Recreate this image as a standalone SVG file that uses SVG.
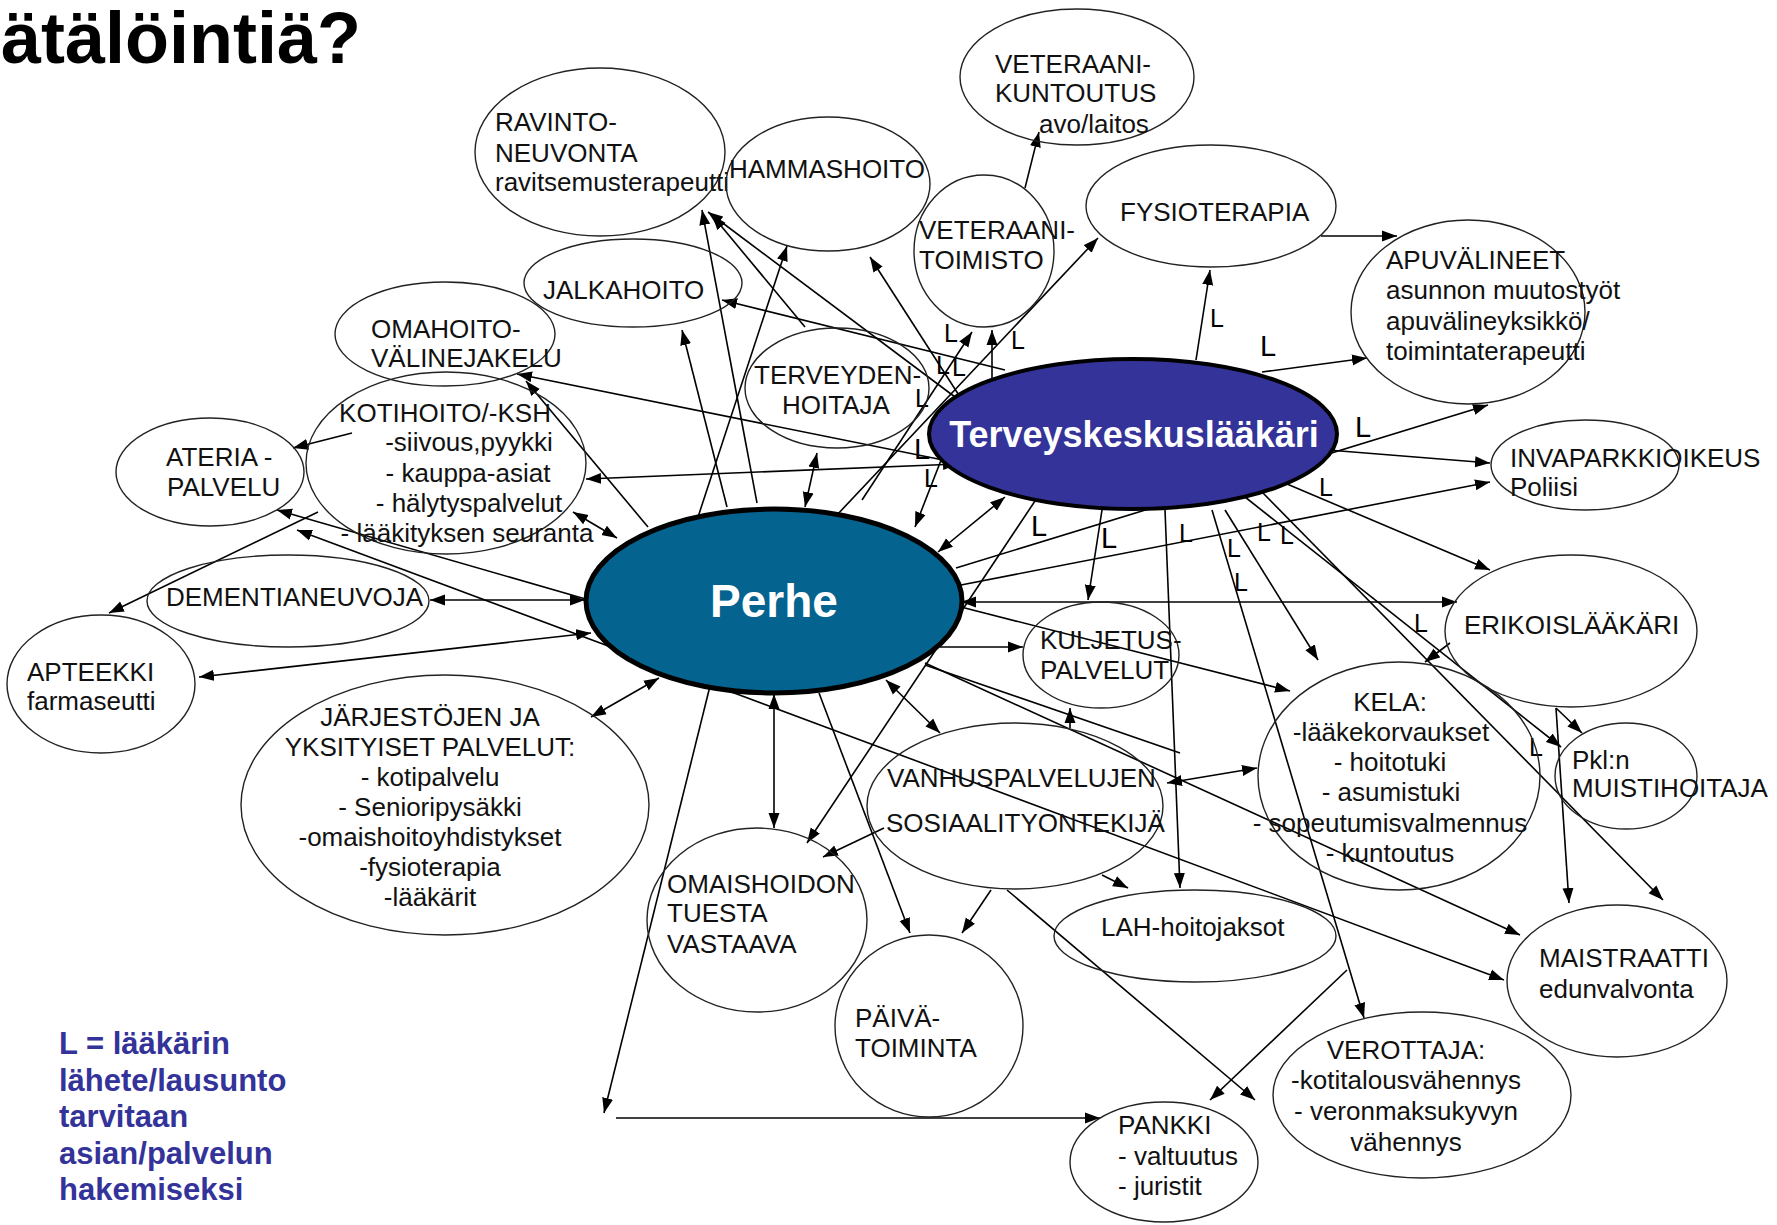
<svg xmlns="http://www.w3.org/2000/svg" width="1777" height="1225" viewBox="0 0 1777 1225">
<defs>
<marker id="ah" markerUnits="userSpaceOnUse" markerWidth="16" markerHeight="12" refX="15" refY="6" orient="auto-start-reverse"><path d="M0,0.5 L15,6 L0,11.5 z" fill="#000"/></marker>
<style>
.c line{stroke:#000;stroke-width:1.6;fill:none}
.e{fill:none;stroke:#222;stroke-width:1.4}
.t{font-family:"Liberation Sans",Arial,sans-serif;font-size:26px;fill:#111}
.m{text-anchor:middle}
.L{font-family:"Liberation Sans",Arial,sans-serif;font-size:25px;fill:#000}
.Lb{font-size:29px}
</style>
</defs>
<rect width="1777" height="1225" fill="#fff"/>
<text x="1" y="63" font-family="Liberation Sans,Arial,sans-serif" font-size="72" font-weight="bold" fill="#000">ätälöintiä?</text>

<g id="connectors" class="c">
<line x1="862" y1="500" x2="972" y2="332" marker-end="url(#ah)"/>
<line x1="992" y1="392" x2="992" y2="330" marker-end="url(#ah)"/>
<line x1="1025" y1="188" x2="1039" y2="132" marker-end="url(#ah)"/>
<line x1="836" y1="516" x2="1098" y2="238" marker-end="url(#ah)"/>
<line x1="1196" y1="360" x2="1210" y2="270" marker-end="url(#ah)"/>
<line x1="1321" y1="236" x2="1397" y2="236" marker-end="url(#ah)"/>
<line x1="1262" y1="372" x2="1367" y2="358" marker-end="url(#ah)"/>
<line x1="1328" y1="450" x2="1490" y2="463" marker-end="url(#ah)"/>
<line x1="961" y1="585" x2="1490" y2="482" marker-end="url(#ah)"/>
<line x1="956" y1="568" x2="1488" y2="405" marker-end="url(#ah)"/>
<line x1="1287" y1="484" x2="1490" y2="570" marker-end="url(#ah)"/>
<line x1="961" y1="602" x2="1457" y2="602" marker-start="url(#ah)" marker-end="url(#ah)"/>
<line x1="1102" y1="510" x2="1088" y2="600" marker-end="url(#ah)"/>
<line x1="1225" y1="510" x2="1318" y2="660" marker-end="url(#ah)"/>
<line x1="1212" y1="510" x2="1364" y2="1018" marker-end="url(#ah)"/>
<line x1="1245" y1="497" x2="1561" y2="747" marker-end="url(#ah)"/>
<line x1="1262" y1="492" x2="1663" y2="900" marker-end="url(#ah)"/>
<line x1="1450" y1="643" x2="1425" y2="662" marker-end="url(#ah)"/>
<line x1="1556" y1="708" x2="1582" y2="733" marker-end="url(#ah)"/>
<line x1="1556" y1="708" x2="1569" y2="903" marker-end="url(#ah)"/>
<line x1="1167" y1="783" x2="1257" y2="768" marker-start="url(#ah)" marker-end="url(#ah)"/>
<line x1="1165" y1="510" x2="1180" y2="888" marker-end="url(#ah)"/>
<line x1="1102" y1="875" x2="1128" y2="888" marker-end="url(#ah)"/>
<line x1="991" y1="890" x2="962" y2="933" marker-end="url(#ah)"/>
<line x1="884" y1="828" x2="823" y2="857" marker-end="url(#ah)"/>
<line x1="1007" y1="890" x2="1255" y2="1100" marker-end="url(#ah)"/>
<line x1="1347" y1="970" x2="1210" y2="1100" marker-end="url(#ah)"/>
<line x1="712" y1="678" x2="604" y2="1113" marker-end="url(#ah)"/>
<line x1="616" y1="1118" x2="1100" y2="1118" marker-end="url(#ah)"/>
<line x1="774" y1="694" x2="774" y2="828" marker-start="url(#ah)" marker-end="url(#ah)"/>
<line x1="1039" y1="495" x2="807" y2="843" marker-end="url(#ah)"/>
<line x1="819" y1="693" x2="910" y2="933" marker-end="url(#ah)"/>
<line x1="886" y1="680" x2="940" y2="733" marker-start="url(#ah)" marker-end="url(#ah)"/>
<line x1="940" y1="647" x2="1023" y2="647" marker-end="url(#ah)"/>
<line x1="961" y1="607" x2="1290" y2="691" marker-end="url(#ah)"/>
<line x1="925" y1="663" x2="1520" y2="935" marker-end="url(#ah)"/>
<line x1="925" y1="665" x2="1180" y2="753"/>
<line x1="297" y1="530" x2="1504" y2="980" marker-start="url(#ah)" marker-end="url(#ah)"/>
<line x1="277" y1="510" x2="589" y2="600" marker-start="url(#ah)"/>
<line x1="430" y1="600" x2="585" y2="600" marker-start="url(#ah)" marker-end="url(#ah)"/>
<line x1="199" y1="677" x2="591" y2="633" marker-start="url(#ah)" marker-end="url(#ah)"/>
<line x1="591" y1="717" x2="659" y2="678" marker-start="url(#ah)" marker-end="url(#ah)"/>
<line x1="318" y1="512" x2="109" y2="613" marker-end="url(#ah)"/>
<line x1="352" y1="433" x2="293" y2="448" marker-end="url(#ah)"/>
<line x1="958" y1="464" x2="586" y2="479" marker-start="url(#ah)" marker-end="url(#ah)"/>
<line x1="953" y1="462" x2="517" y2="374" marker-end="url(#ah)"/>
<line x1="648" y1="527" x2="526" y2="381" marker-end="url(#ah)"/>
<line x1="573" y1="512" x2="617" y2="538" marker-start="url(#ah)" marker-end="url(#ah)"/>
<line x1="805" y1="507" x2="817" y2="453" marker-start="url(#ah)" marker-end="url(#ah)"/>
<line x1="727" y1="507" x2="682" y2="330" marker-end="url(#ah)"/>
<line x1="698" y1="517" x2="787" y2="246" marker-end="url(#ah)"/>
<line x1="757" y1="503" x2="702" y2="210" marker-end="url(#ah)"/>
<line x1="805" y1="327" x2="712" y2="215" marker-end="url(#ah)"/>
<line x1="963" y1="403" x2="708" y2="212" marker-end="url(#ah)"/>
<line x1="962" y1="400" x2="870" y2="257" marker-end="url(#ah)"/>
<line x1="1005" y1="370" x2="722" y2="300" marker-end="url(#ah)"/>
<line x1="945" y1="450" x2="915" y2="527" marker-end="url(#ah)"/>
<line x1="938" y1="552" x2="1005" y2="497" marker-start="url(#ah)" marker-end="url(#ah)"/>
<line x1="1070" y1="728" x2="1070" y2="708" marker-end="url(#ah)"/>
</g>

<g id="lmarks">
<text class="L" x="944" y="342">L</text>
<text class="L" x="1011" y="349">L</text>
<text class="L" x="936" y="374">L</text>
<text class="L" x="952" y="376">L</text>
<text class="L" x="915" y="407">L</text>
<text class="L Lb" x="914" y="459">L</text>
<text class="L" x="924" y="487">L</text>
<text class="L" x="1210" y="327">L</text>
<text class="L Lb" x="1260" y="356">L</text>
<text class="L Lb" x="1355" y="437">L</text>
<text class="L" x="1319" y="496">L</text>
<text class="L Lb" x="1031" y="536">L</text>
<text class="L Lb" x="1101" y="548">L</text>
<text class="L" x="1179" y="542">L</text>
<text class="L" x="1227" y="557">L</text>
<text class="L" x="1234" y="591">L</text>
<text class="L" x="1257" y="541">L</text>
<text class="L" x="1280" y="544">L</text>
<text class="L" x="1414" y="632">L</text>
<text class="L" x="1529" y="756">L</text>
</g>

<g id="n-vetkuntoutus"><ellipse class="e" cx="1077" cy="77" rx="117" ry="68"/><text class="t" x="995" y="73">VETERAANI-</text><text class="t" x="995" y="102">KUNTOUTUS</text><text class="t" x="1039" y="133">avo/laitos</text></g>
<g id="n-ravinto"><ellipse class="e" cx="600" cy="152" rx="125" ry="84"/><text class="t" x="495" y="131">RAVINTO-</text><text class="t" x="495" y="162">NEUVONTA</text><text class="t" x="495" y="191">ravitsemusterapeutti</text></g>
<g id="n-hammas"><ellipse class="e" cx="828" cy="184" rx="102" ry="67"/><text class="t" x="729" y="178">HAMMASHOITO</text></g>
<g id="n-vettoimisto"><ellipse class="e" cx="984" cy="251" rx="70" ry="76"/><text class="t" x="919" y="239">VETERAANI-</text><text class="t" x="919" y="269">TOIMISTO</text></g>
<g id="n-fysio"><ellipse class="e" cx="1211" cy="206" rx="125" ry="61"/><text class="t" x="1120" y="221">FYSIOTERAPIA</text></g>
<g id="n-apuv"><ellipse class="e" cx="1468" cy="312" rx="117" ry="92"/><text class="t" x="1386" y="269">APUVÄLINEET</text><text class="t" x="1386" y="299">asunnon muutostyöt</text><text class="t" x="1386" y="330">apuvälineyksikkö/</text><text class="t" x="1386" y="360">toimintaterapeutti</text></g>
<g id="n-jalka"><ellipse class="e" cx="633" cy="283" rx="109" ry="44"/><text class="t" x="543" y="299">JALKAHOITO</text></g>
<g id="n-omahoito"><ellipse class="e" cx="445" cy="334" rx="110" ry="52"/><text class="t" x="371" y="338">OMAHOITO-</text><text class="t" x="371" y="367">VÄLINEJAKELU</text></g>
<g id="n-terv"><ellipse class="e" cx="837" cy="388" rx="92" ry="60"/><text class="t" x="754" y="384">TERVEYDEN-</text><text class="t" x="782" y="414">HOITAJA</text></g>
<g id="n-kotihoito"><ellipse class="e" cx="446" cy="463" rx="140" ry="91"/><text class="t m" x="445" y="422">KOTIHOITO/-KSH</text><text class="t m" x="469" y="451">-siivous,pyykki</text><text class="t m" x="468" y="482">- kauppa-asiat</text><text class="t m" x="469" y="512">- hälytyspalvelut</text><text class="t m" x="467" y="542">- lääkityksen seuranta</text></g>
<g id="n-ateria"><ellipse class="e" cx="210" cy="472" rx="94" ry="54"/><text class="t" x="166" y="466">ATERIA -</text><text class="t" x="167" y="496">PALVELU</text></g>
<g id="n-dementia"><ellipse class="e" cx="288" cy="601" rx="141" ry="46"/><text class="t" x="166" y="606">DEMENTIANEUVOJA</text></g>
<g id="n-apteekki"><ellipse class="e" cx="101" cy="684" rx="94" ry="69"/><text class="t" x="27" y="681">APTEEKKI</text><text class="t" x="27" y="710">farmaseutti</text></g>
<g id="n-jarjestot"><ellipse class="e" cx="445" cy="805" rx="204" ry="130"/><text class="t m" x="430" y="726">JÄRJESTÖJEN JA</text><text class="t m" x="430" y="756">YKSITYISET PALVELUT:</text><text class="t m" x="430" y="786">- kotipalvelu</text><text class="t m" x="430" y="816">- Senioripysäkki</text><text class="t m" x="430" y="846">-omaishoitoyhdistykset</text><text class="t m" x="430" y="876">-fysioterapia</text><text class="t m" x="430" y="906">-lääkärit</text></g>
<g id="n-perhe"><ellipse cx="774" cy="601" rx="188" ry="92" fill="#05638f" stroke="#000" stroke-width="5"/><text x="774" y="617" text-anchor="middle" font-family="Liberation Sans,Arial,sans-serif" font-size="46" font-weight="bold" fill="#fff">Perhe</text></g>
<g id="n-tk"><ellipse cx="1133" cy="434" rx="204" ry="75" fill="#333399" stroke="#000" stroke-width="4"/><text x="1134" y="447" text-anchor="middle" font-family="Liberation Sans,Arial,sans-serif" font-size="36" font-weight="bold" fill="#fff">Terveyskeskuslääkäri</text></g>
<g id="n-inva"><ellipse class="e" cx="1585" cy="465" rx="94" ry="45"/><text class="t" x="1510" y="467">INVAPARKKIOIKEUS</text><text class="t" x="1510" y="496">Poliisi</text></g>
<g id="n-erikois"><ellipse class="e" cx="1571" cy="631" rx="126" ry="76"/><text class="t" x="1464" y="634">ERIKOISLÄÄKÄRI</text></g>
<g id="n-kuljetus"><ellipse class="e" cx="1101" cy="655" rx="78" ry="53"/><text class="t" x="1040" y="649">KULJETUS-</text><text class="t" x="1040" y="679">PALVELUT</text></g>
<g id="n-vanhus"><ellipse class="e" cx="1015" cy="806" rx="148" ry="83"/><text class="t" x="887" y="787">VANHUSPALVELUJEN</text><text class="t" x="886" y="832">SOSIAALITYONTEKIJÄ</text></g>
<g id="n-kela"><ellipse class="e" cx="1399" cy="776" rx="141" ry="114"/><text class="t m" x="1390" y="711">KELA:</text><text class="t m" x="1391" y="741">-lääkekorvaukset</text><text class="t m" x="1390" y="771">- hoitotuki</text><text class="t m" x="1391" y="801">- asumistuki</text><text class="t m" x="1390" y="832">- sopeutumisvalmennus</text><text class="t m" x="1390" y="862">- kuntoutus</text></g>
<g id="n-pkl"><ellipse class="e" cx="1626" cy="776" rx="71" ry="53"/><text class="t" x="1572" y="769">Pkl:n</text><text class="t" x="1572" y="797">MUISTIHOITAJA</text></g>
<g id="n-omaishoito"><ellipse class="e" cx="757" cy="920" rx="110" ry="92"/><text class="t" x="667" y="893">OMAISHOIDON</text><text class="t" x="667" y="922">TUESTA</text><text class="t" x="667" y="953">VASTAAVA</text></g>
<g id="n-paiva"><ellipse class="e" cx="929" cy="1026" rx="94" ry="91"/><text class="t" x="855" y="1027">PÄIVÄ-</text><text class="t" x="855" y="1057">TOIMINTA</text></g>
<g id="n-lah"><ellipse class="e" cx="1195" cy="936" rx="141" ry="46"/><text class="t" x="1101" y="936">LAH-hoitojaksot</text></g>
<g id="n-pankki"><ellipse class="e" cx="1164" cy="1162" rx="94" ry="60"/><text class="t" x="1118" y="1134">PANKKI</text><text class="t" x="1118" y="1165">- valtuutus</text><text class="t" x="1118" y="1195">- juristit</text></g>
<g id="n-maistraatti"><ellipse class="e" cx="1617" cy="981" rx="110" ry="76"/><text class="t" x="1539" y="967">MAISTRAATTI</text><text class="t" x="1539" y="998">edunvalvonta</text></g>
<g id="n-verottaja"><ellipse class="e" cx="1422" cy="1095" rx="149" ry="83"/><text class="t m" x="1406" y="1059">VEROTTAJA:</text><text class="t m" x="1406" y="1089">-kotitalousvähennys</text><text class="t m" x="1406" y="1120">- veronmaksukyvyn</text><text class="t m" x="1406" y="1151">vähennys</text></g>

<g id="legend" font-family="Liberation Sans,Arial,sans-serif" font-size="31" font-weight="bold" fill="#333399">
<text x="59" y="1054">L = lääkärin</text>
<text x="59" y="1091">lähete/lausunto</text>
<text x="59" y="1127">tarvitaan</text>
<text x="59" y="1164">asian/palvelun</text>
<text x="59" y="1200">hakemiseksi</text>
</g>
</svg>
